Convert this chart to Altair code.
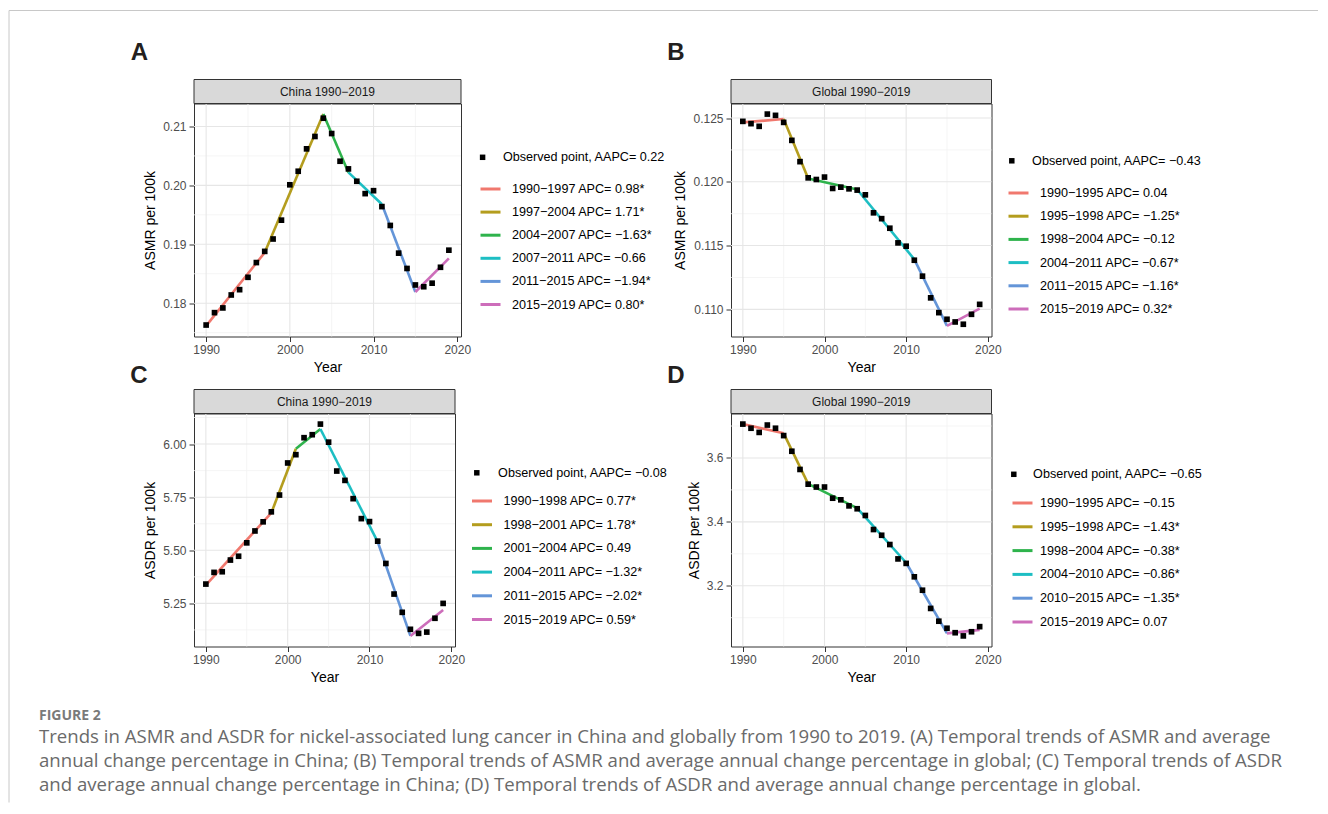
import altair as alt
import pandas as pd

years = list(range(1990, 2020))
x_major = [1990, 2000, 2010, 2020]
x_minor = [1995, 2005, 2015]

seg_colors = ["#F0786E", "#B49D1E", "#2EB34C", "#1DBEC3", "#6495D8", "#CD6DBA"]

# ---- Panel A: China ASMR
china_asmr = [0.1763, 0.1784, 0.1792, 0.1814, 0.1823, 0.1844, 0.1869, 0.1888, 0.1909, 0.1941,
              0.2001, 0.2024, 0.2062, 0.2083, 0.2114, 0.2088, 0.2041, 0.2028, 0.2007, 0.1986,
              0.1991, 0.1964, 0.1932, 0.1885, 0.1859, 0.1831, 0.1828, 0.1834, 0.1861, 0.1890]
china_asmr_join_years = [1990, 1997, 2004, 2007, 2011, 2015, 2019]
china_asmr_join_vals = [0.17615, 0.1886, 0.2121, 0.2022, 0.1968, 0.1819, 0.1876]
china_asmr_labels = ["1990−1997 APC= 0.98*", "1997−2004 APC= 1.71*", "2004−2007 APC= −1.63*",
                     "2007−2011 APC= −0.66", "2011−2015 APC= −1.94*", "2015−2019 APC= 0.80*"]
china_asmr_aapc = "Observed point, AAPC= 0.22"
china_asmr_ymajor = [0.18, 0.19, 0.20, 0.21]
china_asmr_yminor = [0.175, 0.185, 0.195, 0.205]

# ---- Panel B: Global ASMR
global_asmr = [0.12474, 0.12456, 0.12435, 0.12531, 0.12521, 0.12466, 0.12325, 0.12158, 0.12031, 0.12018,
               0.12037, 0.11948, 0.11958, 0.11945, 0.11935, 0.11898, 0.11757, 0.11711, 0.11636, 0.11521,
               0.11495, 0.11385, 0.11260, 0.11090, 0.10974, 0.10922, 0.10901, 0.10883, 0.10961, 0.11039]
global_asmr_join_years = [1990, 1995, 1998, 2004, 2011, 2015, 2019]
global_asmr_join_vals = [0.12466, 0.12492, 0.12026, 0.11940, 0.11392, 0.10870, 0.11005]
global_asmr_labels = ["1990−1995 APC= 0.04", "1995−1998 APC= −1.25*", "1998−2004 APC= −0.12",
                      "2004−2011 APC= −0.67*", "2011−2015 APC= −1.16*", "2015−2019 APC= 0.32*"]
global_asmr_aapc = "Observed point, AAPC= −0.43"
global_asmr_ymajor = [0.110, 0.115, 0.120, 0.125]
global_asmr_yminor = [0.1125, 0.1175, 0.1225]

# ---- Panel C: China ASDR
china_asdr = [5.341, 5.396, 5.399, 5.454, 5.472, 5.535, 5.591, 5.634, 5.681, 5.760,
              5.911, 5.950, 6.030, 6.044, 6.094, 6.009, 5.873, 5.829, 5.743, 5.649,
              5.635, 5.543, 5.438, 5.294, 5.208, 5.128, 5.109, 5.115, 5.180, 5.250]
china_asdr_join_years = [1990, 1998, 2001, 2004, 2011, 2015, 2019]
china_asdr_join_vals = [5.336, 5.676, 5.978, 6.071, 5.540, 5.097, 5.219]
china_asdr_labels = ["1990−1998 APC= 0.77*", "1998−2001 APC= 1.78*", "2001−2004 APC= 0.49",
                     "2004−2011 APC= −1.32*", "2011−2015 APC= −2.02*", "2015−2019 APC= 0.59*"]
china_asdr_aapc = "Observed point, AAPC= −0.08"
china_asdr_ymajor = [5.25, 5.50, 5.75, 6.00]
china_asdr_yminor = [5.125, 5.375, 5.625, 5.875, 6.125]

# ---- Panel D: Global ASDR
global_asdr = [3.706, 3.693, 3.680, 3.703, 3.693, 3.670, 3.621, 3.564, 3.518, 3.509,
               3.509, 3.474, 3.469, 3.450, 3.441, 3.420, 3.376, 3.358, 3.329, 3.284,
               3.270, 3.228, 3.186, 3.129, 3.089, 3.067, 3.053, 3.043, 3.056, 3.072]
global_asdr_join_years = [1990, 1995, 1998, 2004, 2010, 2015, 2019]
global_asdr_join_vals = [3.706, 3.677, 3.519, 3.443, 3.272, 3.051, 3.062]
global_asdr_labels = ["1990−1995 APC= −0.15", "1995−1998 APC= −1.43*", "1998−2004 APC= −0.38*",
                      "2004−2010 APC= −0.86*", "2010−2015 APC= −1.35*", "2015−2019 APC= 0.07"]
global_asdr_aapc = "Observed point, AAPC= −0.65"
global_asdr_ymajor = [3.2, 3.4, 3.6]
global_asdr_yminor = [3.1, 3.3, 3.5, 3.7]

caption_head = "FIGURE 2"
caption_lines = [
    "Trends in ASMR and ASDR for nickel-associated lung cancer in China and globally from 1990 to 2019. (A) Temporal trends of ASMR and average",
    "annual change percentage in China; (B) Temporal trends of ASMR and average annual change percentage in global; (C) Temporal trends of ASDR",
    "and average annual change percentage in China; (D) Temporal trends of ASDR and average annual change percentage in global.",
]

ONE = alt.Data(values=[{}])
LEG_FS = 12.6


def panel(letter, strip, ytitle, fmt, obs, jy, jv, labels, aapc, ymajor, yminor,
          w, h, obs_leg, seg_leg, letter_pos, extra=None):
    obs_df = pd.DataFrame({"year": years, "value": obs, "series": aapc})
    rows = []
    for i, lab in enumerate(labels):
        rows.append({"year": jy[i], "value": jv[i], "segment": lab})
        rows.append({"year": jy[i + 1], "value": jv[i + 1], "segment": lab})
    seg_df = pd.DataFrame(rows)
    allv = list(obs) + list(jv)
    lo, hi = min(allv), max(allv)
    pad = 0.05 * (hi - lo)
    xs = alt.Scale(domain=[1990 - 0.05 * 29, 2019 + 0.05 * 29], nice=False, zero=False)
    ys = alt.Scale(domain=[lo - pad, hi + pad], nice=False, zero=False)
    xax = alt.Axis(values=x_major, format="d", title="Year")
    yax = alt.Axis(values=ymajor, format=fmt, title=ytitle)

    def X():
        return alt.X("year:Q", scale=xs, axis=xax)

    def Y():
        return alt.Y("value:Q", scale=ys, axis=yax)

    gx_min = alt.Chart(pd.DataFrame({"year": x_minor})).mark_rule(color="#f2f2f2", strokeWidth=0.8).encode(x=X())
    gy_min = alt.Chart(pd.DataFrame({"value": yminor})).mark_rule(color="#f2f2f2", strokeWidth=0.8).encode(y=Y())
    gx_maj = alt.Chart(pd.DataFrame({"year": x_major[:-1]})).mark_rule(color="#e6e6e6", strokeWidth=1.1).encode(x=X())
    gy_maj = alt.Chart(pd.DataFrame({"value": ymajor})).mark_rule(color="#e6e6e6", strokeWidth=1.1).encode(y=Y())

    lines = alt.Chart(seg_df).mark_line(strokeWidth=2.6).encode(
        x=X(), y=Y(),
        color=alt.Color("segment:N", scale=alt.Scale(domain=labels, range=seg_colors),
                        legend=alt.Legend(orient="none", legendX=seg_leg[0], legendY=seg_leg[1],
                                          title=None, symbolType="stroke", symbolStrokeWidth=3,
                                          symbolSize=400, rowPadding=seg_leg[2], labelOffset=seg_leg[3],
                                          labelFontSize=LEG_FS, labelColor="#000000", labelLimit=400,
                                          padding=0)),
        detail="segment:N",
    )
    points = alt.Chart(obs_df).mark_point(filled=True, color="black", opacity=1, size=32).encode(
        x=X(), y=Y(),
        shape=alt.Shape("series:N", scale=alt.Scale(domain=[aapc], range=["square"]),
                        legend=alt.Legend(orient="none", legendX=obs_leg[0], legendY=obs_leg[1],
                                          title=None, symbolSize=30, symbolFillColor="black",
                                          symbolStrokeColor="black", labelOffset=obs_leg[2],
                                          labelFontSize=LEG_FS, labelColor="#000000", labelLimit=400,
                                          padding=0)),
    )
    strip_rect = alt.Chart(ONE).mark_rect(fill="#d9d9d9", stroke="#333333", strokeWidth=1).encode(
        x=alt.value(0), x2=alt.value(w), y=alt.value(-24), y2=alt.value(0))
    strip_text = alt.Chart(ONE).mark_text(text=strip, fontSize=12, color="#1a1a1a").encode(
        x=alt.value(w / 2), y=alt.value(-12))
    letter_text = alt.Chart(ONE).mark_text(text=letter, fontSize=24, fontWeight="bold", color="#231f20",
                                           baseline="middle", align="center").encode(
        x=alt.value(letter_pos[0]), y=alt.value(letter_pos[1]))
    layers = [gx_min, gy_min, gx_maj, gy_maj, lines, points, strip_rect, strip_text, letter_text]
    if extra:
        layers += extra
    return alt.layer(*layers).properties(width=w, height=h)


frame = [
    alt.Chart(ONE).mark_rule(color="#c8c8c8", strokeWidth=1).encode(
        x=alt.value(-185), x2=alt.value(1124), y=alt.value(-93), y2=alt.value(-93)),
    alt.Chart(ONE).mark_rule(color="#c8c8c8", strokeWidth=1).encode(
        x=alt.value(-185), x2=alt.value(-185), y=alt.value(-93), y2=alt.value(699)),
]
caption = [
    alt.Chart(ONE).mark_text(text=caption_head, font="Open Sans", fontSize=14, fontWeight="bold",
                             color="#7a7a7a", align="left", baseline="alphabetic").encode(
        x=alt.value(-155), y=alt.value(306)),
    alt.Chart(ONE).mark_text(text=caption_lines, font="Open Sans", fontSize=18.6, lineHeight=24,
                             color="#6a6a6a", align="left", baseline="alphabetic").encode(
        x=alt.value(-155), y=alt.value(329)),
]

COL2_W = 260.5
pA = panel("A", "China 1990−2019", "ASMR per 100k", ".2f", china_asmr, china_asmr_join_years,
           china_asmr_join_vals, china_asmr_labels, china_asmr_aapc, china_asmr_ymajor, china_asmr_yminor,
           267, 233, (282.3, 47.5, 14), (285, 74, 4.1, 10), (-54.5, -50.5), extra=frame)
pB = panel("B", "Global 1990−2019", "ASMR per 100k", ".3f", global_asmr, global_asmr_join_years,
           global_asmr_join_vals, global_asmr_labels, global_asmr_aapc, global_asmr_ymajor, global_asmr_yminor,
           COL2_W, 233, (274.5, 51, 14), (276, 78, 4.2, 10), (-55, -50.5))
pC = panel("C", "China 1990−2019", "ASDR per 100k", ".2f", china_asdr, china_asdr_join_years,
           china_asdr_join_vals, china_asdr_labels, china_asdr_aapc, china_asdr_ymajor, china_asdr_yminor,
           261, 233, (276.5, 53, 15), (276.5, 76, 4.7, 10), (-55, -38), extra=caption)
pD = panel("D", "Global 1990−2019", "ASDR per 100k", ".1f", global_asdr, global_asdr_join_years,
           global_asdr_join_vals, global_asdr_labels, global_asdr_aapc, global_asdr_ymajor, global_asdr_yminor,
           COL2_W, 233, (276.5, 54.5, 13), (280, 78, 4.8, 6), (-55, -38))

chart = alt.concat(
    pA, pB, pC, pD, columns=2,
    spacing=alt.RowColnumber(row=77, column=270),
    bounds="flush",
).resolve_scale(
    color="independent", shape="independent"
).properties(
    padding={"left": 0, "top": 1.5, "right": 0, "bottom": 0}
).configure(
    font="Liberation Sans"
).configure_view(
    stroke="#333333", strokeWidth=1
).configure_axis(
    grid=False, domain=False, labelFontSize=12, labelColor="#4d4d4d", tickColor="#333333",
    tickSize=5, tickWidth=1, labelPadding=3, titleFontSize=14, titleFontWeight="normal",
    titleColor="#000000", titlePadding=5, labelFlush=False, labelOverlap=False
)

chart.save("out.html", embed_options={"renderer": "svg", "actions": False})
